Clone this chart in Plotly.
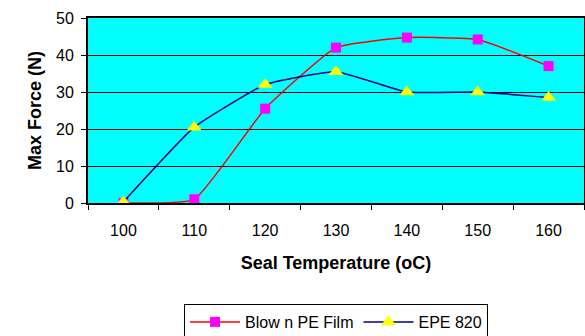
import plotly.graph_objects as go

temps = ["100", "110", "120", "130", "140", "150", "160"]
blown_pe = [0, 1, 25.5, 42, 44.7, 44.2, 37]
epe820 = [0.3, 20.5, 32, 35.5, 30, 30, 28.5]

fig = go.Figure()
fig.add_trace(go.Scatter(
    x=temps, y=blown_pe, name="Blow n PE Film", mode="lines+markers",
    line=dict(color="#FF0000", width=1.5, shape="spline", smoothing=0.4),
    marker=dict(symbol="square", size=10, color="#FF00FF"),
))
fig.add_trace(go.Scatter(
    x=temps, y=epe820, name="EPE 820", mode="lines+markers",
    line=dict(color="#000080", width=1.5, shape="spline", smoothing=0.4),
    marker=dict(symbol="triangle-up", size=13, color="#FFFF00"),
))

font = "Liberation Sans, Arial, sans-serif"
fig.update_layout(
    width=585, height=336,
    margin=dict(l=88, r=1, t=18, b=133, autoexpand=False),
    paper_bgcolor="white", plot_bgcolor="#00FFFF",
    font=dict(family=font, size=16, color="black"),
    showlegend=True,
    legend=dict(orientation="h", x=0.5, xanchor="center",
                yref="container", y=(336 - 304) / 336, yanchor="top",
                bordercolor="black", borderwidth=1, font=dict(size=16),
                itemwidth=50, tracegroupgap=0),
    xaxis=dict(
        type="category", tickson="boundaries", ticks="outside", ticklen=5,
        tickcolor="black", showgrid=False, showline=True, linecolor="black",
        linewidth=2, mirror=True, range=[-0.5, 6.5], ticklabelstandoff=12,
        tickfont=dict(size=16),
        title=dict(text="<b>Seal Temperature (oC)</b>", font=dict(size=18), standoff=18),
    ),
    yaxis=dict(
        range=[0, 50], dtick=10, ticks="outside", ticklen=5, tickcolor="black",
        showgrid=True, gridcolor="black", gridwidth=1,
        showline=True, linecolor="black", linewidth=2, mirror=True,
        zeroline=False, ticklabelstandoff=4, tickfont=dict(size=16),
        title=dict(text="<b>Max Force (N)</b>", font=dict(size=18), standoff=10),
    ),
)

fig.write_html("out.html")
